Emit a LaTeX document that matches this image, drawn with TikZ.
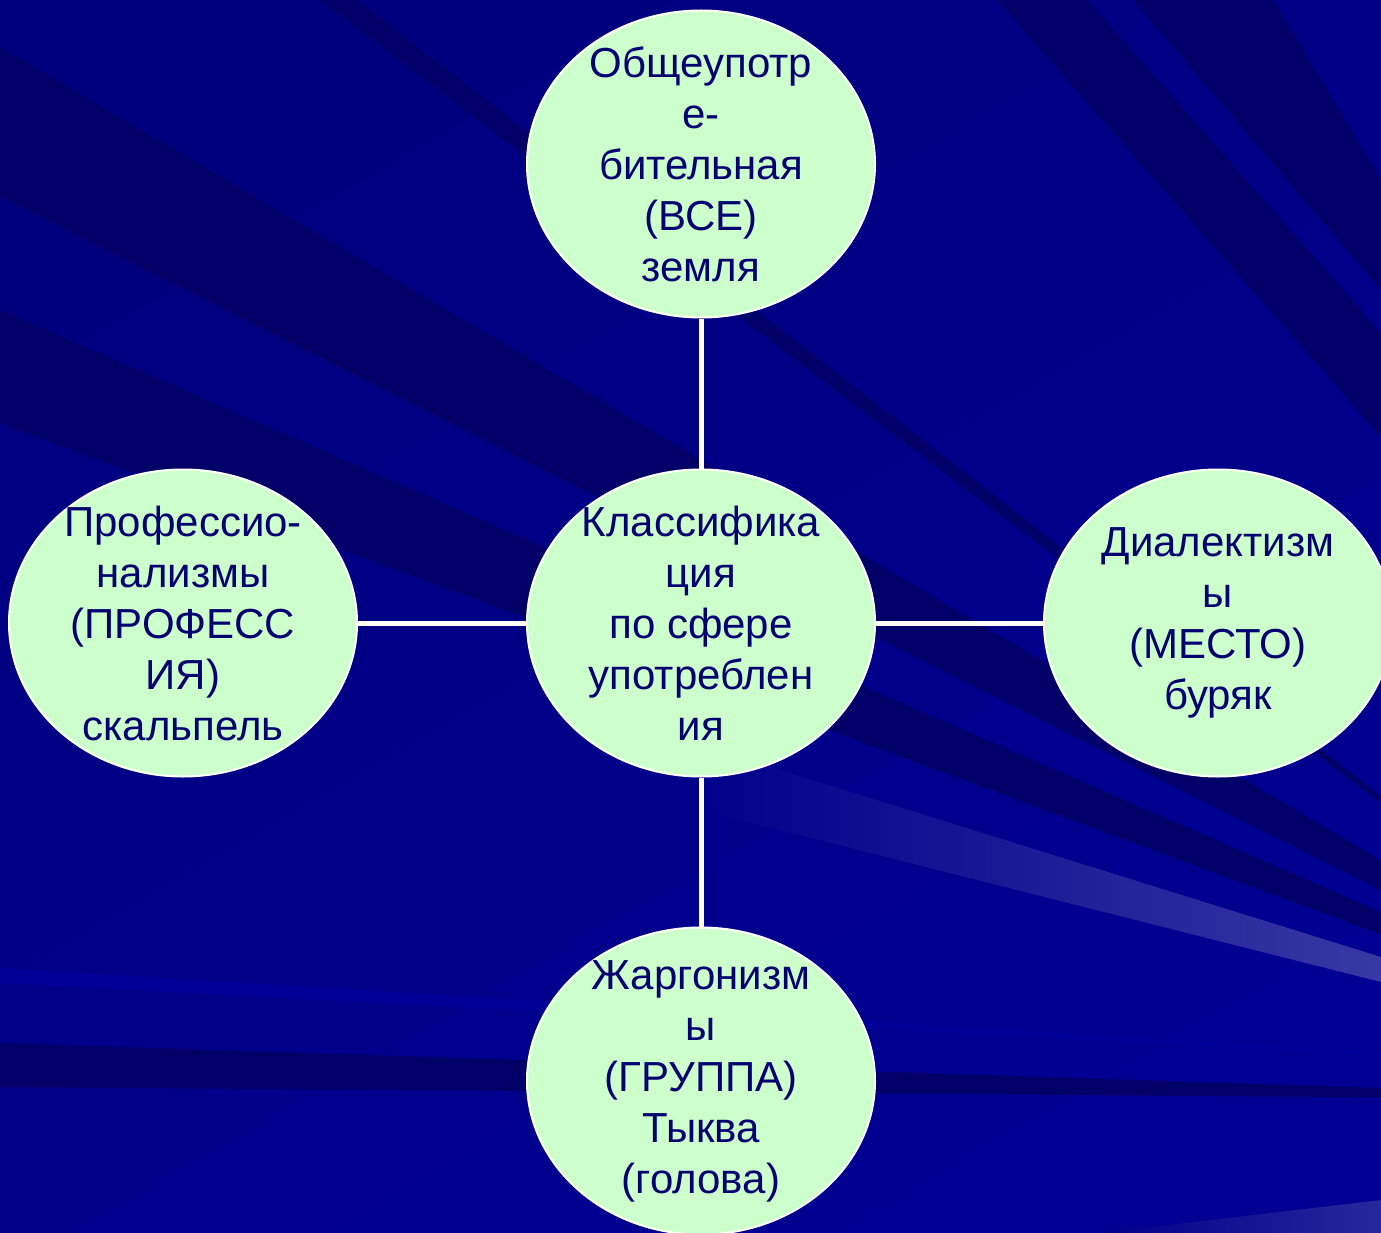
\documentclass[tikz,border=0pt]{standalone}
\usepackage{fontspec}
\setmainfont{Liberation Sans}
\usetikzlibrary{shapes.geometric}
\definecolor{bgtop}{RGB}{0,0,126}
\definecolor{bgbot}{RGB}{0,0,146}
\definecolor{bgbase}{RGB}{0,0,138}
\definecolor{bgdark}{RGB}{0,0,104}
\definecolor{bglite}{RGB}{0,0,152}
\definecolor{streak}{RGB}{56,56,164}
\definecolor{bubblefill}{RGB}{204,255,204}
\definecolor{ink}{RGB}{0,0,112}
\begin{document}
\begin{tikzpicture}[x=1pt,y=-1pt,
  bubble/.style={ellipse, draw=white, line width=2pt, fill=bubblefill,
    minimum width=348pt, minimum height=307pt, inner sep=0pt},
  txt/.style={align=center, text=ink, inner sep=0pt,
    font=\fontsize{42}{51}\selectfont},
  link/.style={draw=white, line width=5pt}]
\useasboundingbox (0,0) rectangle (1381,1233);
% background
\begin{scope}
\clip (0,0) rectangle (1381,1233);
\shade[top color=bgtop, bottom color=bgbot, shading angle=30] (0,0) rectangle (1381,1233);
\fill[bgdark] (1720,1060) -- (0,47) -- (0,197) -- cycle;
\fill[bgdark] (1720,1060) -- (0,310) -- (0,423) -- cycle;
\fill[bgdark] (1720,1060) -- (320,0) -- (357,0) -- cycle;
\fill[bgdark] (1750,1100) -- (0,1043) -- (0,1087) -- cycle;
\fill[bglite] (1750,1075) -- (0,968) -- (0,983) -- cycle;
\fill[bgdark] (997,0) -- (1087,0) -- (1381,333) -- (1381,437) -- cycle;
\fill[bgdark] (1133,0) -- (1273,0) -- (1381,180) -- (1381,290) -- cycle;
\shade[left color=bgbase, right color=streak] (700,745) -- (1381,957) -- (1381,982) -- (700,810) -- cycle;
\shade[left color=bgbase, right color=streak!70!bgbase] (1100,1233) -- (1381,1200) -- (1381,1233) -- cycle;
\end{scope}
% bubbles
\node[bubble] (nTop) at (701,164) {};
\node[bubble] (nMid) at (701,623) {};
\node[bubble] (nLeft) at (183,623) {};
\node[bubble] (nRight) at (1218,623) {};
\node[bubble] (nBot) at (701,1081) {};
% connectors
\draw[link] (nTop) -- (nMid);
\draw[link] (nMid) -- (nBot);
\draw[link] (nLeft) -- (nMid);
\draw[link] (nMid) -- (nRight);
% texts
\node[txt] (tTop) at (nTop.center) {Общеупотр\\е-\\бительная\\(ВСЕ)\\земля};
\node[txt] (tMid) at (nMid.center) {Классифика\\ция\\по сфере\\употреблен\\ия};
\node[txt] (tLeft) at (nLeft.center) {Профессио-\\нализмы\\(ПРОФЕСС\\ИЯ)\\скальпель};
\node[txt] (tRight) at (nRight.center) {Диалектизм\\ы\\(МЕСТО)\\буряк};
\node[txt] (tBot) at (nBot.center) {Жаргонизм\\ы\\(ГРУППА)\\Тыква\\(голова)};
\end{tikzpicture}
\end{document}
